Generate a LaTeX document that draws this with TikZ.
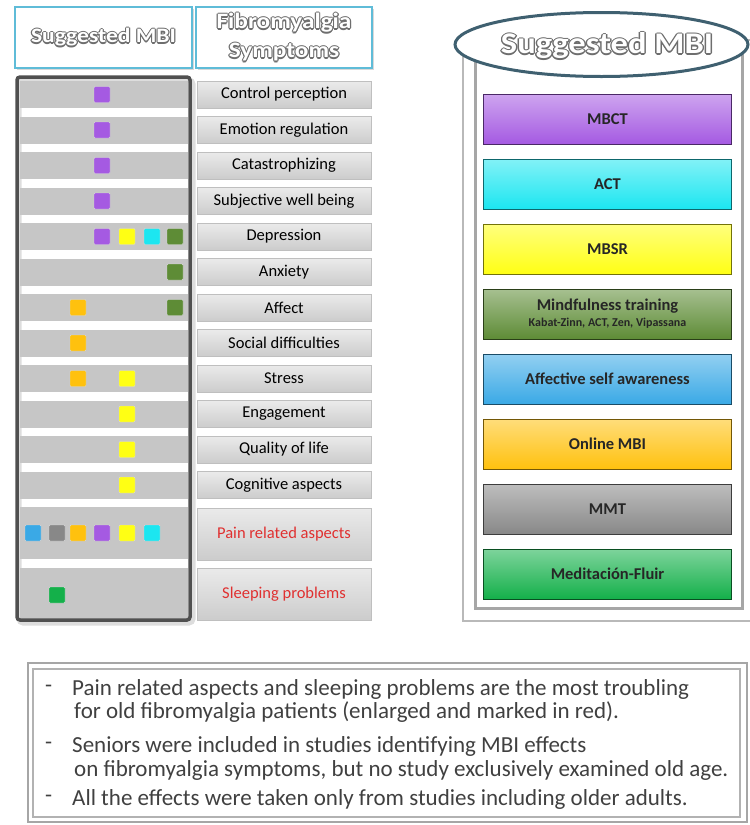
\documentclass[tikz,border=0pt]{standalone}
\usepackage{fontspec}
\setmainfont{Carlito}
\newfontfamily\titlefont[FakeStretch=1.15]{Carlito}
\usetikzlibrary{shapes.geometric}

\definecolor{hdrblue}{HTML}{5FBCD8}
\definecolor{barGray}{HTML}{C6C6C6}
\definecolor{frameGray}{HTML}{505050}
\definecolor{haloGray}{HTML}{6E6E6E}
\definecolor{ellEdge}{HTML}{3F6070}
\definecolor{cPurple}{HTML}{A55AE2}
\definecolor{cCyan}{HTML}{1CE6F0}
\definecolor{cYellow}{HTML}{FFFF14}
\definecolor{cMoss}{HTML}{5E8C36}
\definecolor{cBlue}{HTML}{3AA9E6}
\definecolor{cOrange}{HTML}{FFC10E}
\definecolor{cGray}{HTML}{888888}
\definecolor{cGreen}{HTML}{14B04A}
\definecolor{redText}{HTML}{E03030}
\definecolor{noteText}{HTML}{404040}

% hollow lettering: grey copies around a white face
\newlength\halow
\newlength\halod
\newcommand\halocopy[3]{\rlap{\hspace*{#1}\raisebox{#2}{\textcolor{haloGray}{#3}}}}
\newcommand\halo[2][.8pt]{%
  \setlength\halow{#1}\setlength\halod{0.7\halow}%
  \halocopy{\halow}{0pt}{#2}\halocopy{-\halow}{0pt}{#2}%
  \halocopy{0pt}{\halow}{#2}\halocopy{0pt}{-\halow}{#2}%
  \halocopy{\halod}{\halod}{#2}\halocopy{-\halod}{\halod}{#2}%
  \halocopy{\halod}{-\halod}{#2}\halocopy{-\halod}{-\halod}{#2}%
  \textcolor{white}{#2}}

\begin{document}
\begin{tikzpicture}[x=1pt,y=-1pt,
  hdr/.style={draw=hdrblue, line width=1.6pt, fill=white, inner sep=0pt,
    align=center},
  leftbar/.style={fill=barGray, inner sep=0pt, minimum width=168pt},
  symbar/.style={top color=gray!16, bottom color=gray!40, draw=gray!50,
    line width=.6pt, inner sep=0pt, minimum width=174pt,
    font=\fontsize{16.5}{18}\selectfont, text=black},
  sq/.style={inner sep=0pt, minimum size=16pt, rounded corners=1pt, draw=black!15, line width=.4pt},
  mbibox/.style={inner sep=0pt, minimum width=248pt, minimum height=50pt,
    line width=1pt, align=center, font=\fontsize{16.5}{18}\selectfont\bfseries, text=black!85},
  note/.style={anchor=west, inner sep=0pt, text=noteText, font=\fontsize{23}{25}\selectfont}
]
\useasboundingbox (0,0) rectangle (750,825);

% ---- column headers ----
\fill[gray!30] (17,9) rectangle (194,70);
\fill[gray!30] (198,9) rectangle (374,70);
\node[hdr, minimum width=177pt, minimum height=61pt,
  font=\titlefont\fontsize{20.5}{22}\selectfont\bfseries] (hmbi) at (103.5,37.5) {\halo[1.1pt]{Suggested MBI}};
\node[hdr, minimum width=176pt, minimum height=61pt,
  font=\titlefont\fontsize{22}{28}\selectfont\bfseries] (hsym) at (284,37.5)
  {\halo[1.1pt]{Fibromyalgia}\\[1pt]\halo[1.1pt]{Symptoms}};

% ---- symptom rows ----
\foreach \i/\lab in {0/Control perception,1/Emotion regulation,2/Catastrophizing,
    3/Subjective well being,4/Depression,5/Anxiety,6/Affect,7/Social difficulties,
    8/Stress,9/Engagement,10/Quality of life,11/Cognitive aspects}{
  \node[leftbar, minimum height=27pt] (lb\i) at (104,{94.5+35.5*\i}) {};
  \node[symbar, minimum height=27pt] (rb\i) at (284,{94.5+35.5*\i}) {\lab};
}
\node[leftbar, minimum height=52pt] (lbP) at (104,533) {};
\node[symbar, minimum height=52pt, text=redText] (rbP) at (284,534) {Pain related aspects};
\node[leftbar, minimum height=51pt] (lbS) at (104,593.5) {};
\node[symbar, minimum height=52pt, text=redText] (rbS) at (284,594) {Sleeping problems};

% ---- MBI markers per symptom ----
\foreach \i in {0,1,2,3,4}{
  \node[sq, fill=cPurple] (qp\i) at (102,{94.5+35.5*\i}) {};
}
\node[sq, fill=cYellow] (qy4) at (127,236.5) {};
\node[sq, fill=cCyan]   (qc4) at (152,236.5) {};
\foreach \i in {4,5,6}{
  \node[sq, fill=cMoss] (qm\i) at (175,{94.5+35.5*\i}) {};
}
\foreach \i in {6,7,8}{
  \node[sq, fill=cOrange] (qo\i) at (78,{94.5+35.5*\i}) {};
}
\foreach \i in {8,9,10,11}{
  \node[sq, fill=cYellow] (qy\i) at (127,{94.5+35.5*\i}) {};
}
\node[sq, fill=cBlue]   (pB) at (33,533) {};
\node[sq, fill=cGray]   (pG) at (57,533) {};
\node[sq, fill=cOrange] (pO) at (78,533) {};
\node[sq, fill=cPurple] (pP) at (102,533) {};
\node[sq, fill=cYellow] (pY) at (127,533) {};
\node[sq, fill=cCyan]   (pC) at (152,533) {};
\node[sq, fill=cGreen]  (sG) at (57,595) {};

% ---- frame round the MBI column ----
\draw[gray!45, line width=5pt, rounded corners=4pt, opacity=.6] (19,80) rectangle (193,623);
\draw[frameGray, line width=3.5pt, rounded corners=3pt] (17,77) rectangle (190,620);

% ---- MBI legend panel ----
\draw[gray!55, line width=1.3pt] (463,40) rectangle (756,621);
\draw[gray!70, line width=3pt] (475,45) rectangle (742,608);
\node[ellipse, draw=ellEdge, line width=3pt, fill=white, inner sep=0pt,
  minimum width=293pt, minimum height=64pt] (ell) at (601.5,44.5) {};
\node[inner sep=0pt, font=\titlefont\fontsize{30}{32}\selectfont\bfseries] (ellT) at (607,46)
  {\halo[1.4pt]{Suggested MBI}};

\node[mbibox, top color=cPurple!55!white, bottom color=cPurple, draw=cPurple!45!black] (mbct) at (607.5,119) {MBCT};
\node[mbibox, top color=cCyan!55!white, bottom color=cCyan, draw=cCyan!45!black] (act) at (607.5,184) {ACT};
\node[mbibox, top color=cYellow!55!white, bottom color=cYellow, draw=cYellow!45!black] (mbsr) at (607.5,249) {MBSR};
\node[mbibox, top color=cMoss!55!white, bottom color=cMoss, draw=cMoss!45!black] (mft) at (607.5,314)
  {Mindfulness training\\[-2pt]{\fontsize{12}{13}\selectfont Kabat-Zinn, ACT, Zen, Vipassana}};
\node[mbibox, top color=cBlue!55!white, bottom color=cBlue, draw=cBlue!45!black] (asa) at (607.5,379) {Affective self awareness};
\node[mbibox, top color=cOrange!55!white, bottom color=cOrange, draw=cOrange!45!black] (omb) at (607.5,444) {Online MBI};
\node[mbibox, top color=cGray!55!white, bottom color=cGray, draw=cGray!45!black] (mmt) at (607.5,509) {MMT};
\node[mbibox, top color=cGreen!55!white, bottom color=cGreen, draw=cGreen!45!black] (mfl) at (607.5,574) {Meditación-Fluir};

% ---- notes ----
\draw[gray!70, line width=2pt] (28,663) rectangle (747,822);
\draw[gray!60, line width=1.2pt] (33,669) rectangle (740,817);
\node[note] (d1) at (45,689) {-};
\node[note] (n1) at (72,689) {Pain related aspects and sleeping problems are the most troubling};
\node[note] (n1b) at (74,712) {for old fibromyalgia patients (enlarged and marked in red).};
\node[note] (d2) at (45,746) {-};
\node[note] (n2) at (72,746) {Seniors were included in studies identifying MBI effects};
\node[note] (n2b) at (74,770) {on fibromyalgia symptoms, but no study exclusively examined old age.};
\node[note] (d3) at (45,799) {-};
\node[note] (n3) at (72,799) {All the effects were taken only from studies including older adults.};
\end{tikzpicture}
\end{document}
